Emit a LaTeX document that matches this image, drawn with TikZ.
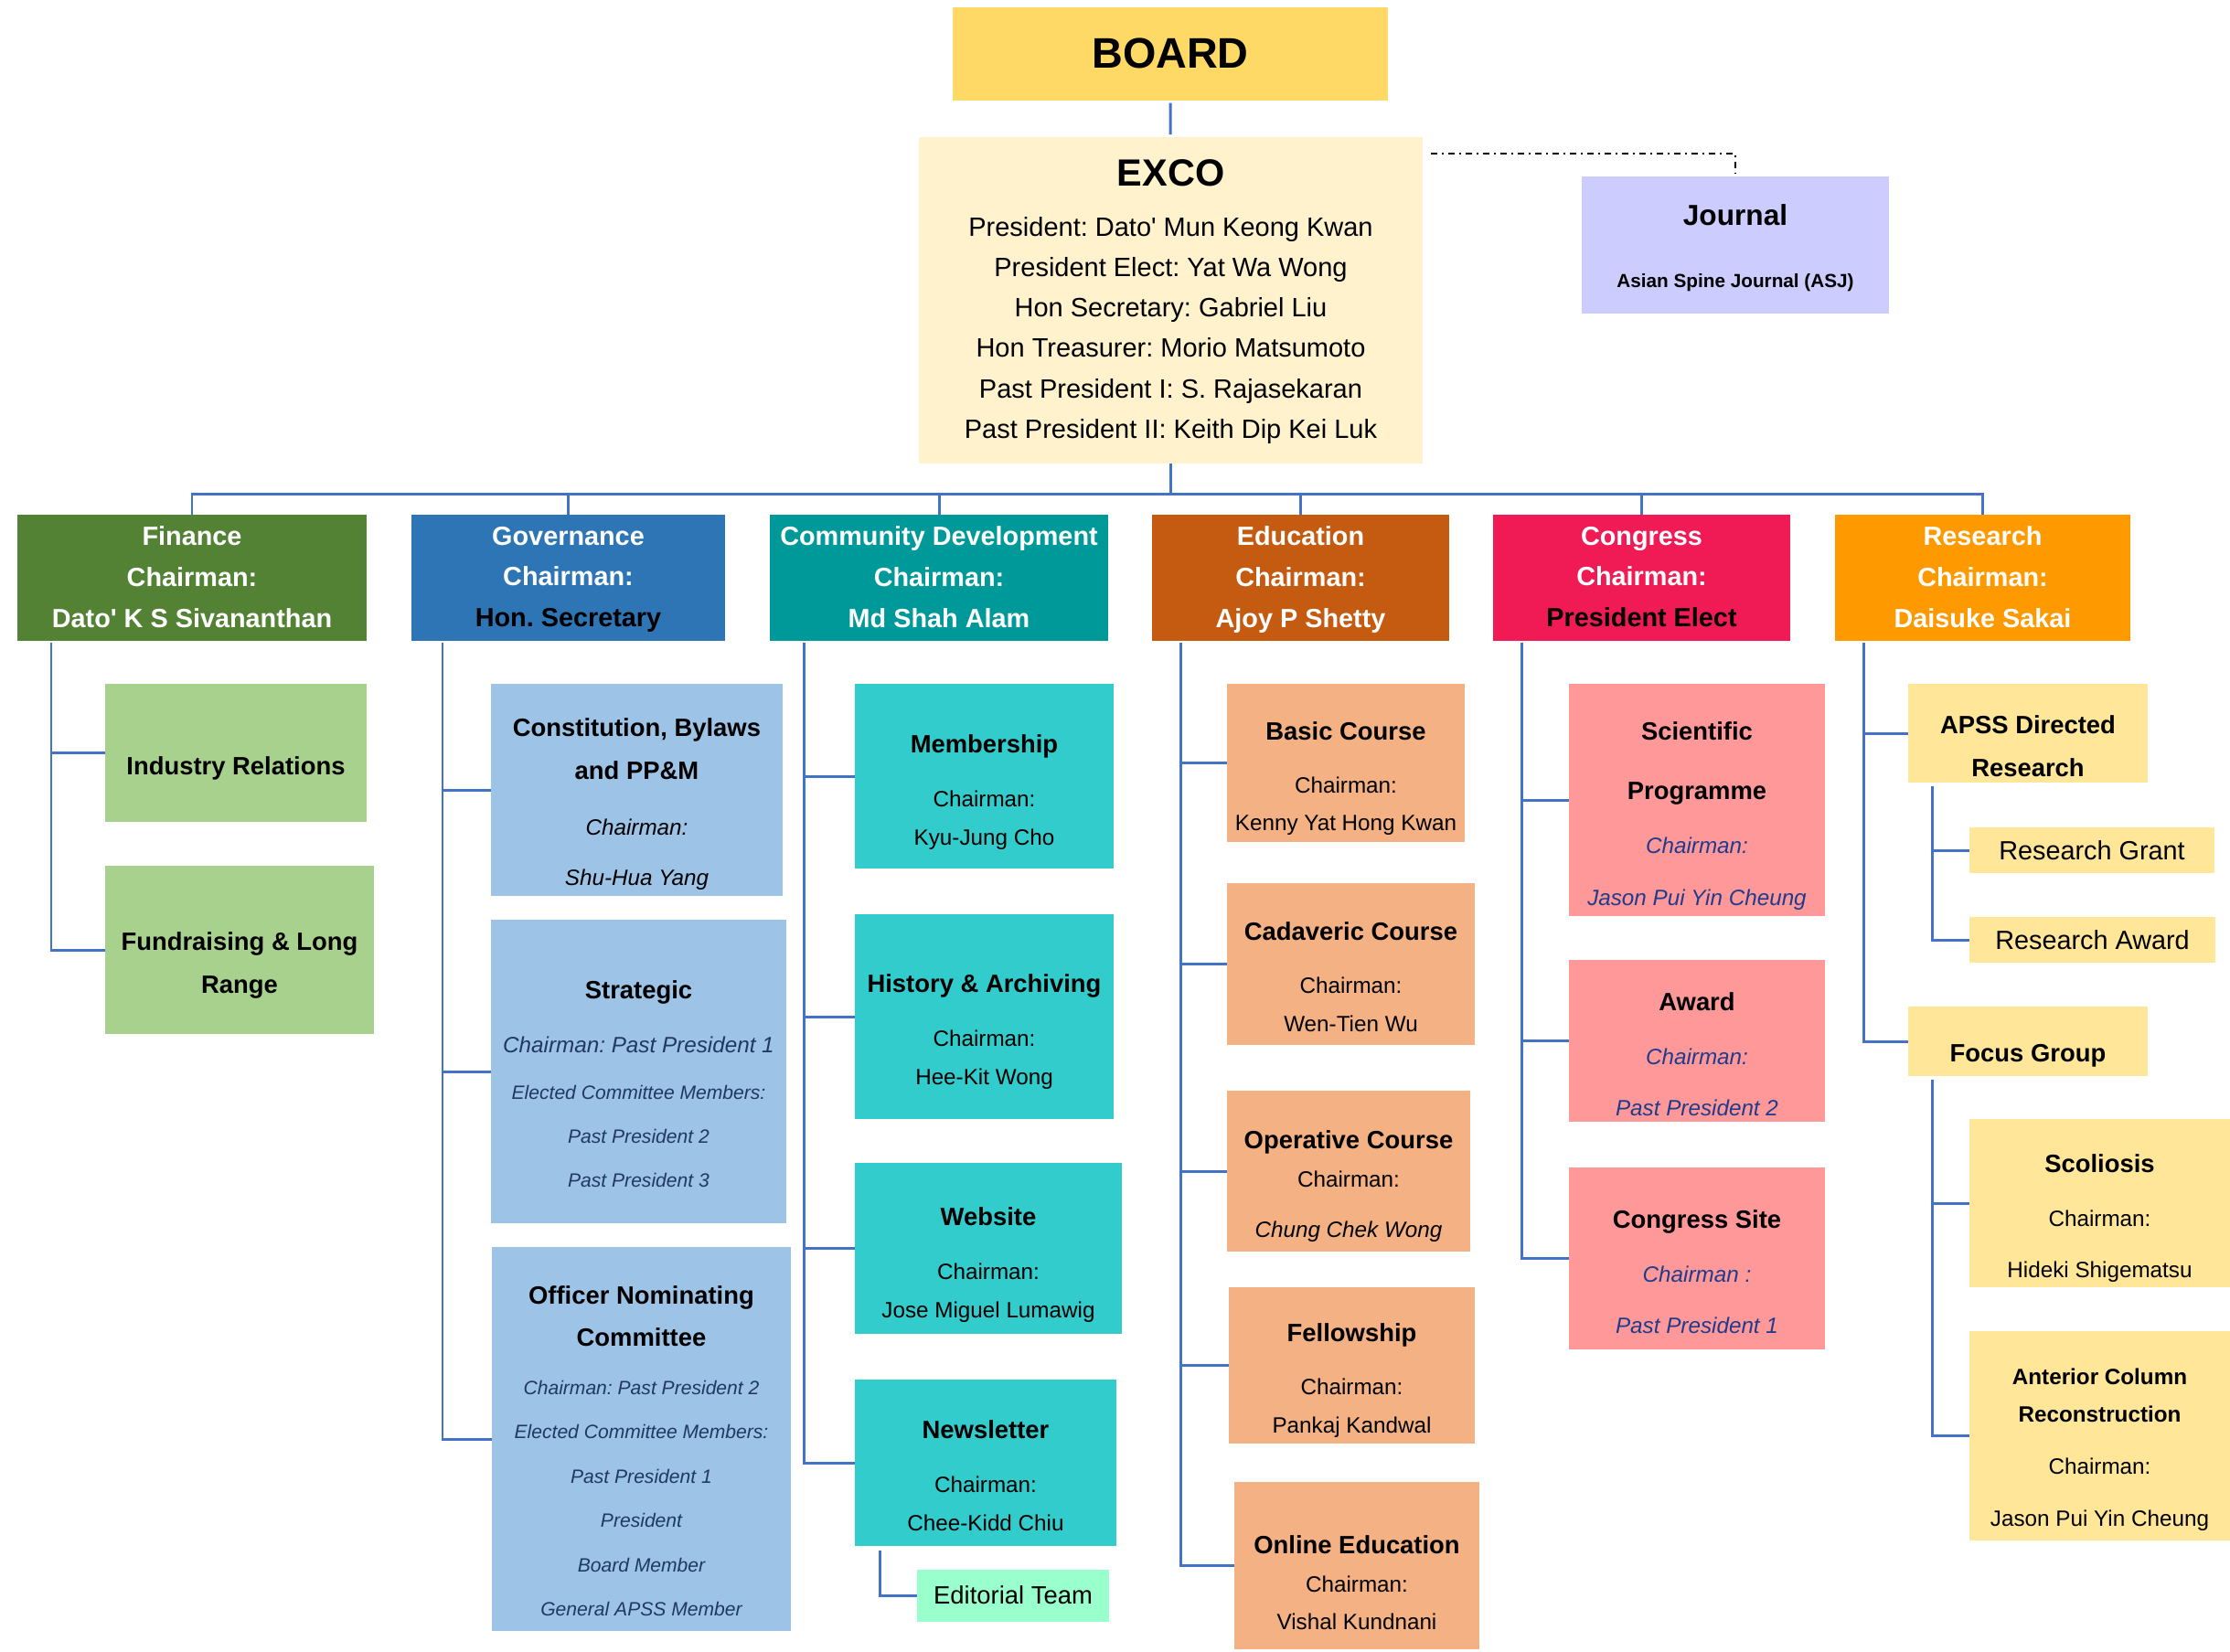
\documentclass[tikz,border=0pt]{standalone}
\usepackage{fontspec}
\setmainfont{Liberation Sans}
\usepackage{xcolor}
\usepackage{tikz}
\usetikzlibrary{calc}
\usetikzlibrary{arrows.meta}
\usetikzlibrary{positioning}
\frenchspacing

\definecolor{linkc}{HTML}{4472C4}
\definecolor{boardc}{HTML}{FFD966}
\definecolor{excoc}{HTML}{FFF2CC}
\definecolor{jourc}{HTML}{CCCCFF}
\definecolor{finc}{HTML}{548235}
\definecolor{finl}{HTML}{A9D18E}
\definecolor{govc}{HTML}{2E75B6}
\definecolor{govl}{HTML}{9DC3E6}
\definecolor{comc}{HTML}{009999}
\definecolor{coml}{HTML}{33CCCC}
\definecolor{editc}{HTML}{99FFCC}
\definecolor{educ}{HTML}{C55A11}
\definecolor{edul}{HTML}{F4B183}
\definecolor{cngc}{HTML}{F01B55}
\definecolor{cngl}{HTML}{FF9999}
\definecolor{resc}{HTML}{FF9900}
\definecolor{resl}{HTML}{FFE699}
\definecolor{navy}{HTML}{1F3864}
\definecolor{cngnavy}{HTML}{203B8C}

\newcommand{\orgtitle}{\fontsize{7.8}{13.4}\selectfont\bfseries\upshape}

\tikzset{>=latex}
\tikzset{
  link/.style = {draw=linkc, line width=0.85pt},
  jlink/.style = {draw=black, line width=0.6pt, dash pattern=on 2pt off 1.4pt on 0.6pt off 1.4pt},
  org/.style = {draw=none, inner sep=0, outer sep=0},
  txt/.style = {inner sep=0, outer sep=0, align=center},
  hd/.style = {org, minimum height=1.38cm},
  hdtxt/.style = {txt, text=white, font=\fontsize{8.2}{12.7}\selectfont\bfseries},
  body/.style = {txt, font=\fontsize{6.9}{11.7}\selectfont},
}

\begin{document}
\begin{tikzpicture}
\useasboundingbox (0,0) rectangle (24.39,-18.06);

% board, exco, journal
\node [org, fill=boardc, minimum width=4.76cm, minimum height=1.02cm, font=\fontsize{13.3}{16}\selectfont\bfseries] (board) at (12.80,-0.585) {BOARD};
\node [org, fill=excoc, minimum width=5.51cm, minimum height=3.57cm] (exco) at (12.805,-3.285) {};
\node [txt, below=0.25cm of exco.north, font=\fontsize{8.25}{12.6}\selectfont] (exco-t) {{\fontsize{11.8}{14}\selectfont\bfseries EXCO}\\[2.8pt]President: Dato\textquotesingle{} Mun Keong Kwan\\President Elect: Yat Wa Wong\\Hon Secretary: Gabriel Liu\\Hon Treasurer: Morio Matsumoto\\Past President I: S. Rajasekaran\\Past President II: Keith Dip Kei Luk};
\node [org, fill=jourc, minimum width=3.36cm, minimum height=1.50cm] (jour) at (18.98,-2.68) {};
\node [txt, below=0.31cm of jour.north, font=\fontsize{5.9}{19.1}\selectfont\bfseries] (jour-t) {{\fontsize{9}{11}\selectfont Journal}\\Asian Spine Journal (ASJ)};

% committee heads
\node [hd, fill=finc, minimum width=3.82cm] (fin) at (2.10,-6.32) {};
\node [hd, fill=govc, minimum width=3.43cm] (gov) at (6.215,-6.32) {};
\node [hd, fill=comc, minimum width=3.70cm] (com) at (10.27,-6.32) {};
\node [hd, fill=educ, minimum width=3.25cm] (edu) at (14.225,-6.32) {};
\node [hd, fill=cngc, minimum width=3.25cm] (cng) at (17.955,-6.32) {};
\node [hd, fill=resc, minimum width=3.23cm] (res) at (21.685,-6.32) {};
\node [hdtxt, below=0.13cm of fin.north] (fin-t) {Finance\\Chairman:\\Dato\textquotesingle{} K S Sivananthan};
\node [hdtxt, below=0.13cm of gov.north] (gov-t) {Governance\\Chairman:\\\textcolor{black}{Hon. Secretary}};
\node [hdtxt, below=0.13cm of com.north] (com-t) {Community Development\\Chairman:\\Md Shah Alam};
\node [hdtxt, below=0.13cm of edu.north] (edu-t) {Education\\Chairman:\\Ajoy P Shetty};
\node [hdtxt, below=0.13cm of cng.north] (cng-t) {Congress\\Chairman:\\\textcolor{black}{President Elect}};
\node [hdtxt, below=0.13cm of res.north] (res-t) {Research\\Chairman:\\Daisuke Sakai};

% finance
\node [org, fill=finl, minimum width=2.86cm, minimum height=1.51cm] (ind) at (2.58,-8.235) {};
\node [txt, below=0.80cm of ind.north, font=\orgtitle] (ind-t) {Industry Relations};
\node [org, fill=finl, minimum width=2.94cm, minimum height=1.84cm] (fund) at (2.62,-10.39) {};
\node [txt, below=0.73cm of fund.north, font=\orgtitle] (fund-t) {Fundraising \& Long\\Range};

% governance
\node [org, fill=govl, minimum width=3.19cm, minimum height=2.32cm] (con) at (6.965,-8.64) {};
\node [txt, below=0.38cm of con.north, font=\fontsize{6.9}{15.9}\selectfont\itshape] (con-t) {{\orgtitle Constitution, Bylaws}\\[-2.5pt]{\orgtitle and PP\&M}\\[1.2pt]Chairman:\\Shu-Hua Yang};
\node [org, fill=govl, minimum width=3.23cm, minimum height=3.32cm] (str) at (6.985,-11.72) {};
\node [txt, below=0.67cm of str.north, text=navy, font=\fontsize{6}{13.7}\selectfont\itshape] (str-t) {{\orgtitle\color{black}Strategic}\\[3.1pt]{\fontsize{6.9}{8}\selectfont Chairman: Past President 1}\\[0.7pt]Elected Committee Members:\\Past President 2\\Past President 3};
\node [org, fill=govl, minimum width=3.27cm, minimum height=4.20cm] (off) at (7.015,-15.74) {};
\node [txt, below=0.43cm of off.north, text=navy, font=\fontsize{6}{13.8}\selectfont\itshape] (off-t) {{\orgtitle\color{black}Officer Nominating}\\[-0.7pt]{\orgtitle\color{black}Committee}\\[1.1pt]Chairman: Past President 2\\Elected Committee Members:\\Past President 1\\President\\Board Member\\General APSS Member};

% community development
\node [org, fill=coml, minimum width=2.83cm, minimum height=2.02cm] (mem) at (10.765,-8.49) {};
\node [body, below=0.56cm of mem.north] (mem-t) {{\orgtitle Membership}\\[5.1pt]Chairman:\\Kyu-Jung Cho};
\node [org, fill=coml, minimum width=2.83cm, minimum height=2.24cm] (his) at (10.765,-11.12) {};
\node [body, below=0.66cm of his.north] (his-t) {{\orgtitle History \& Archiving}\\[5.1pt]Chairman:\\Hee-Kit Wong};
\node [org, fill=coml, minimum width=2.92cm, minimum height=1.87cm] (web) at (10.81,-13.655) {};
\node [body, below=0.49cm of web.north] (web-t) {{\orgtitle Website}\\[5.1pt]Chairman:\\Jose Miguel Lumawig};
\node [org, fill=coml, minimum width=2.86cm, minimum height=1.82cm] (news) at (10.78,-16.00) {};
\node [body, below=0.45cm of news.north] (news-t) {{\orgtitle Newsletter}\\[5.1pt]Chairman:\\Chee-Kidd Chiu};
\node [org, fill=editc, minimum width=2.10cm, minimum height=0.57cm, font=\fontsize{7.8}{9}\selectfont] (edit) at (11.08,-17.45) {Editorial Team};

% education
\node [org, fill=edul, minimum width=2.60cm, minimum height=1.73cm] (bas) at (14.72,-8.345) {};
\node [body, below=0.42cm of bas.north] (bas-t) {{\orgtitle Basic Course}\\[4.8pt]Chairman:\\Kenny Yat Hong Kwan};
\node [org, fill=edul, minimum width=2.71cm, minimum height=1.77cm] (cad) at (14.775,-10.545) {};
\node [body, below=0.43cm of cad.north] (cad-t) {{\orgtitle Cadaveric Course}\\[4.8pt]Chairman:\\Wen-Tien Wu};
\node [org, fill=edul, minimum width=2.66cm, minimum height=1.76cm] (ope) at (14.75,-12.81) {};
\node [body, below=0.44cm of ope.north] (ope-t) {{\orgtitle Operative Course}\\Chairman:\\[4.2pt]\textit{Chung Chek Wong}};
\node [org, fill=edul, minimum width=2.69cm, minimum height=1.71cm] (fel) at (14.785,-14.935) {};
\node [body, below=0.40cm of fel.north] (fel-t) {{\orgtitle Fellowship}\\[4.8pt]Chairman:\\Pankaj Kandwal};
\node [org, fill=edul, minimum width=2.68cm, minimum height=1.83cm] (onl) at (14.84,-17.125) {};
\node [body, below=0.59cm of onl.north] (onl-t) {{\orgtitle Online Education}\\Chairman:\\Vishal Kundnani};

% congress
\node [org, fill=cngl, minimum width=2.80cm, minimum height=2.54cm] (sci) at (18.56,-8.75) {};
\node [txt, below=0.42cm of sci.north, text=cngnavy, font=\fontsize{6.9}{16.2}\selectfont\itshape] (sci-t) {{\orgtitle\color{black}Scientific}\\[2.3pt]{\orgtitle\color{black}Programme}\\[0.6pt]Chairman:\\Jason Pui Yin Cheung};
\node [org, fill=cngl, minimum width=2.80cm, minimum height=1.77cm] (awd) at (18.56,-11.385) {};
\node [txt, below=0.36cm of awd.north, text=cngnavy, font=\fontsize{6.9}{15.9}\selectfont\itshape] (awd-t) {{\orgtitle\color{black}Award}\\[0.9pt]Chairman:\\Past President 2};
\node [org, fill=cngl, minimum width=2.80cm, minimum height=1.99cm] (cst) at (18.56,-13.76) {};
\node [txt, below=0.47cm of cst.north, text=cngnavy, font=\fontsize{6.9}{15.9}\selectfont\itshape] (cst-t) {{\orgtitle\color{black}Congress Site}\\[0.9pt]Chairman :\\Past President 1};

% research
\node [org, fill=resl, minimum width=2.62cm, minimum height=1.08cm] (apss) at (22.18,-8.02) {};
\node [txt, below=0.35cm of apss.north, font=\orgtitle] (apss-t) {APSS Directed\\Research};
\node [org, fill=resl, minimum width=2.68cm, minimum height=0.50cm, font=\fontsize{8.2}{10}\selectfont] (grant) at (22.88,-9.30) {Research Grant};
\node [org, fill=resl, minimum width=2.69cm, minimum height=0.50cm, font=\fontsize{8.2}{10}\selectfont] (rawd) at (22.885,-10.28) {Research Award};
\node [org, fill=resl, minimum width=2.62cm, minimum height=0.76cm] (focus) at (22.18,-11.39) {};
\node [txt, below=0.41cm of focus.north, font=\orgtitle] (focus-t) {Focus Group};
\node [org, fill=resl, minimum width=2.85cm, minimum height=1.84cm] (sco) at (22.965,-13.16) {};
\node [txt, below=0.39cm of sco.north, font=\fontsize{6.9}{15.9}\selectfont] (sco-t) {{\orgtitle Scoliosis}\\[0.9pt]Chairman:\\Hideki Shigematsu};
\node [org, fill=resl, minimum width=2.85cm, minimum height=2.29cm] (ant) at (22.965,-15.705) {};
\node [txt, below=0.41cm of ant.north, font=\fontsize{6.9}{16.2}\selectfont] (ant-t) {{\bfseries Anterior Column}\\[-4.5pt]{\bfseries Reconstruction}\\Chairman:\\Jason Pui Yin Cheung};

% top links
\draw [link, shorten <=0.03cm, shorten >=0.03cm] (board) -- (exco);
\coordinate (jdash) at ([xshift=0.09cm,yshift=-0.18cm]exco.north east);
\draw [jlink] (jdash) -| ([yshift=0.04cm]jour.north);
\coordinate (bus) at ($(exco.south)+(0,-0.33)$);
\draw [link] (exco.south) -- (bus);
\draw [link] (fin.north) -- (fin.north |- bus) -- (res.north |- bus) -- (res.north);
\foreach \h in {gov, com, edu, cng}
  \draw [link] (\h.north) -- (\h.north |- bus);

% trunks
\coordinate (finT) at ([xshift=0.37cm,yshift=-0.02cm]fin.south west);
\coordinate (govT) at ([xshift=0.34cm,yshift=-0.02cm]gov.south west);
\coordinate (comT) at ([xshift=0.37cm,yshift=-0.02cm]com.south west);
\coordinate (eduT) at ([xshift=0.31cm,yshift=-0.02cm]edu.south west);
\coordinate (cngT) at ([xshift=0.31cm,yshift=-0.02cm]cng.south west);
\coordinate (resT) at ([xshift=0.31cm,yshift=-0.02cm]res.south west);
\coordinate (apssT) at ([xshift=0.26cm,yshift=-0.04cm]apss.south west);
\coordinate (focT) at ([xshift=0.26cm,yshift=-0.04cm]focus.south west);
\coordinate (newsT) at ([xshift=0.27cm,yshift=-0.05cm]news.south west);

\foreach \c in {ind, fund} \draw [link] (finT) |- (\c.west);
\foreach \c in {con, str, off} \draw [link] (govT) |- (\c.west);
\foreach \c in {mem, his, web, news} \draw [link] (comT) |- (\c.west);
\draw [link] (newsT) |- (edit.west);
\foreach \c in {bas, cad, ope, fel, onl} \draw [link] (eduT) |- (\c.west);
\foreach \c in {sci, awd, cst} \draw [link] (cngT) |- (\c.west);
\foreach \c in {apss, focus} \draw [link] (resT) |- (\c.west);
\foreach \c in {grant, rawd} \draw [link] (apssT) |- (\c.west);
\foreach \c in {sco, ant} \draw [link] (focT) |- (\c.west);
\end{tikzpicture}
\end{document}
